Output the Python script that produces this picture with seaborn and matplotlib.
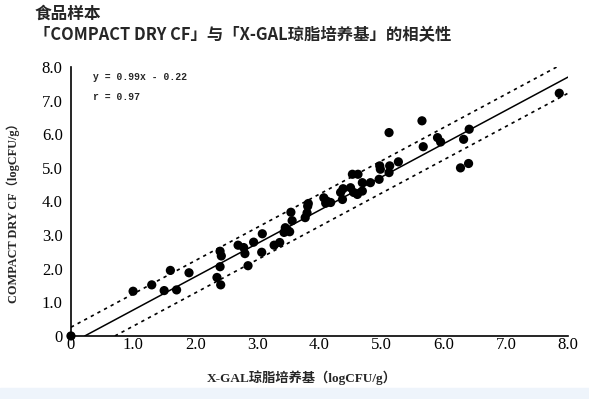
import numpy as np
import pandas as pd
import matplotlib
matplotlib.use('Agg')
import matplotlib.pyplot as plt
import seaborn as sns

# dados (logCFU/g)
x_gal = [0, 1.0, 1.3, 1.5, 1.6, 1.7, 1.9, 2.4, 2.42, 2.4, 2.35, 2.41,
         2.69, 2.78, 2.80, 2.85, 2.94, 3.07, 3.08, 3.27, 3.36, 3.43, 3.48,
         3.45, 3.52, 3.54, 3.56, 3.77, 3.80, 3.81, 3.82, 4.07, 4.12, 4.18,
         4.10, 4.34, 4.37, 4.38, 4.53, 4.62, 4.50, 4.55, 4.61, 4.69, 4.69,
         4.82, 4.96, 4.97, 4.98, 5.13, 5.12, 5.27, 5.12, 5.65, 5.67, 5.90,
         5.95, 6.32, 6.41, 6.27, 6.40, 7.86]
compact_dry = [0, 1.33, 1.52, 1.35, 1.95, 1.37, 1.88, 2.52, 2.38, 2.06, 1.74, 1.52,
               2.70, 2.63, 2.45, 2.09, 2.79, 2.49, 3.04, 2.70, 2.78, 3.08, 3.16,
               3.22, 3.10, 3.68, 3.43, 3.52, 3.66, 3.86, 3.94, 4.11, 4.01, 3.97,
               3.95, 4.27, 4.06, 4.38, 4.81, 4.81, 4.41, 4.27, 4.21, 4.56, 4.31,
               4.56, 4.66, 5.06, 4.96, 5.06, 4.86, 5.18, 6.05, 6.40, 5.63, 5.90,
               5.77, 5.85, 6.15, 5.00, 5.13, 7.22]

# reta de regressao e faixa
slope = 0.99
intercept = -0.22
band = 0.48
tick_vals = [0, 1, 2, 3, 4, 5, 6, 7, 8]
tick_labels = ['0', '1.0', '2.0', '3.0', '4.0', '5.0', '6.0', '7.0', '8.0']

df = pd.DataFrame({'x': x_gal, 'y': compact_dry})

sns.set_style('white')
plt.rcParams['font.family'] = ['Noto Sans CJK SC', 'DejaVu Sans']

fig = plt.figure(figsize=(5.89, 3.99), dpi=100)
fig.patches.append(plt.Rectangle((0, 0), 1, 0.028, transform=fig.transFigure,
                                 color='#eef4fb', zorder=-1))
ax = fig.add_axes([0.1205, 0.158, 0.8438, 0.674])

sns.scatterplot(data=df, x='x', y='y', ax=ax, color='black', s=44,
                edgecolor='none', clip_on=False, zorder=5, legend=False)

# linhas
x0 = -intercept / slope
xs = np.array([x0, 8.0])
ax.plot(xs, slope * xs + intercept, color='black', lw=1.1)
xs_up = np.array([0, 8.0])
ax.plot(xs_up, slope * xs_up + intercept + band, color='black', lw=1.2, ls=(0, (2, 2.5)))
x_lo = -(intercept - band) / slope
xs_lo = np.array([x_lo, 8.0])
ax.plot(xs_lo, slope * xs_lo + intercept - band, color='black', lw=1.2, ls=(0, (2, 2.5)))

ax.set_xlim(0, 8)
ax.set_ylim(0, 8)
ax.set_xticks(tick_vals)
ax.set_xticklabels(tick_labels, family='Liberation Serif', fontsize=12)
ax.set_yticks(tick_vals)
ax.set_yticklabels(tick_labels, family='Liberation Serif', fontsize=12)
ax.tick_params(axis='x', direction='in', length=5, width=1, pad=1, colors='black')
ax.tick_params(axis='y', direction='out', length=4, width=1, pad=2, colors='black')

sns.despine(ax=ax)
for s in ['left', 'bottom']:
    ax.spines[s].set_color('black')
    ax.spines[s].set_linewidth(1.2)

ax.set_xlabel('X-GAL琼脂培养基（logCFU/g）', family=['Liberation Serif', 'Noto Sans CJK SC'],
              fontsize=9.5, fontweight='bold')
ax.xaxis.set_label_coords(0.465, -0.128)
ax.set_ylabel('COMPACT DRY CF（logCFU/g）', family=['Liberation Serif', 'Noto Sans CJK SC'],
              fontsize=8.8, fontweight='bold')
ax.yaxis.set_label_coords(-0.103, 0.468)

ax.text(0.35, 7.62, 'y = 0.99x - 0.22', family='Liberation Mono', fontweight='bold', fontsize=7)
ax.text(0.35, 7.02, 'r = 0.97', family='Liberation Mono', fontweight='bold', fontsize=7)

fig.text(0.058, 0.965, '食品样本', fontsize=12, fontweight='bold', va='center')
fig.text(0.058, 0.913, '「COMPACT DRY CF」与「X-GAL琼脂培养基」的相关性',
         family=['Noto Sans CJK SC', 'DejaVu Sans'], fontsize=11.8, fontweight='bold', va='center')

fig.savefig('out.png', dpi=100, facecolor='white')
